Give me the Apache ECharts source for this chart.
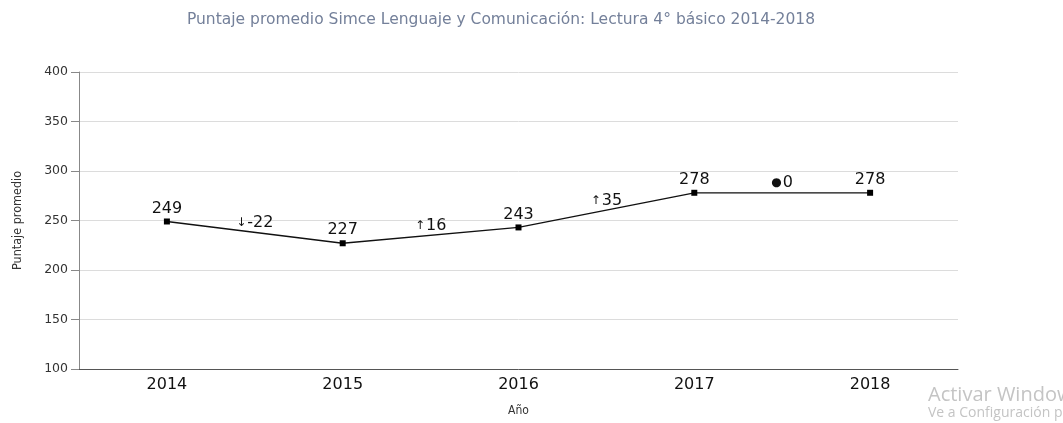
<!DOCTYPE html>
<html><head><meta charset="utf-8">
<script src="https://cdn.jsdelivr.net/npm/echarts@6/dist/echarts.min.js"></script>
<style>html,body{margin:0;padding:0;background:#fff}#c{width:1063px;height:423px}</style>
</head><body><div id="c"></div>
<script>
const titleText = 'Puntaje promedio Simce Lenguaje y Comunicación: Lectura 4° básico 2014-2018';
const years = ['2014', '2015', '2016', '2017', '2018'];
const scores = [249, 227, 243, 278, 278];
const changeSigns = ['↓', '↑', '↑', '●'];
const changeValues = ['-22', '16', '35', '0'];
const changePos = [0.5, 1.5, 2.5, 3.5];
const changeY = [238, 235, 260.5, 278];
const yTicks = [100, 150, 200, 250, 300, 350, 400];

const chart = echarts.init(document.getElementById('c'));
chart.setOption({
  animation: false,
  title: {
    text: titleText, left: 496, top: 7, textAlign: 'center',
    textStyle: { fontFamily: 'DejaVu Sans, sans-serif', fontSize: 15.5, fontWeight: 'normal', color: '#74809a' }
  },
  grid: { left: 79, right: 105, top: 72, bottom: 54 },
  xAxis: [{
    type: 'category', data: years, boundaryGap: true,
    name: 'Año', nameLocation: 'middle', nameGap: 36,
    nameTextStyle: { fontFamily: 'Liberation Sans Narrow, DejaVu Sans Condensed, sans-serif', fontSize: 12, color: '#333' },
    axisLine: { lineStyle: { color: '#555', width: 1 } },
    axisTick: { alignWithLabel: true, length: 5, lineStyle: { color: '#555' } },
    axisLabel: { fontFamily: 'DejaVu Sans, sans-serif', fontSize: 16, color: '#111', margin: 8 }
  }, {
    type: 'value', min: -0.5, max: 4.5, show: false
  }],
  yAxis: {
    type: 'value', min: yTicks[0], max: yTicks[yTicks.length - 1], interval: 50,
    name: 'Puntaje promedio', nameLocation: 'middle', nameGap: 55, nameRotate: 90,
    nameTextStyle: { fontFamily: 'Liberation Sans Narrow, DejaVu Sans Condensed, sans-serif', fontSize: 12.5, color: '#333' },
    axisLine: { show: true, onZero: false, lineStyle: { color: '#888' } },
    axisTick: { show: true, length: 8, lineStyle: { color: '#888' } },
    axisLabel: { fontFamily: 'DejaVu Sans, sans-serif', fontSize: 12.5, color: '#333', margin: 11 },
    splitLine: { lineStyle: { color: '#dcdcdc' } }
  },
  series: [{
    type: 'line', data: scores, xAxisIndex: 0,
    symbol: 'rect', symbolSize: 6,
    lineStyle: { color: '#111', width: 1.3 },
    itemStyle: { color: '#000' },
    label: { show: true, position: 'top', distance: 2, fontFamily: 'DejaVu Sans, sans-serif', fontSize: 16, color: '#111' }
  }, {
    type: 'scatter', xAxisIndex: 1, symbolSize: 1,
    itemStyle: { color: 'rgba(0,0,0,0)', opacity: 1 },
    data: changePos.map((x, i) => ({
      value: [x, changeY[i]],
      label: { formatter: '{s|' + changeSigns[i] + '}' + changeValues[i] }
    })),
    label: {
      show: true, position: 'top', distance: 1, fontFamily: 'DejaVu Sans, sans-serif', fontSize: 16, color: '#111',
      rich: { s: { fontFamily: 'DejaVu Sans, sans-serif', fontSize: 12, color: '#111', padding: [0, 1, 0, 0] } }
    },
    silent: true
  }],
  graphic: [
    { type: 'text', left: 928, top: 385, style: { text: 'Activar Windows', font: '20px "Open Sans", sans-serif', fill: '#c4c4c4' } },
    { type: 'text', left: 928, top: 406, style: { text: 'Ve a Configuración para activar Windows.', font: '14px "Open Sans", sans-serif', fill: '#c4c4c4' } }
  ]
});
</script></body></html>
